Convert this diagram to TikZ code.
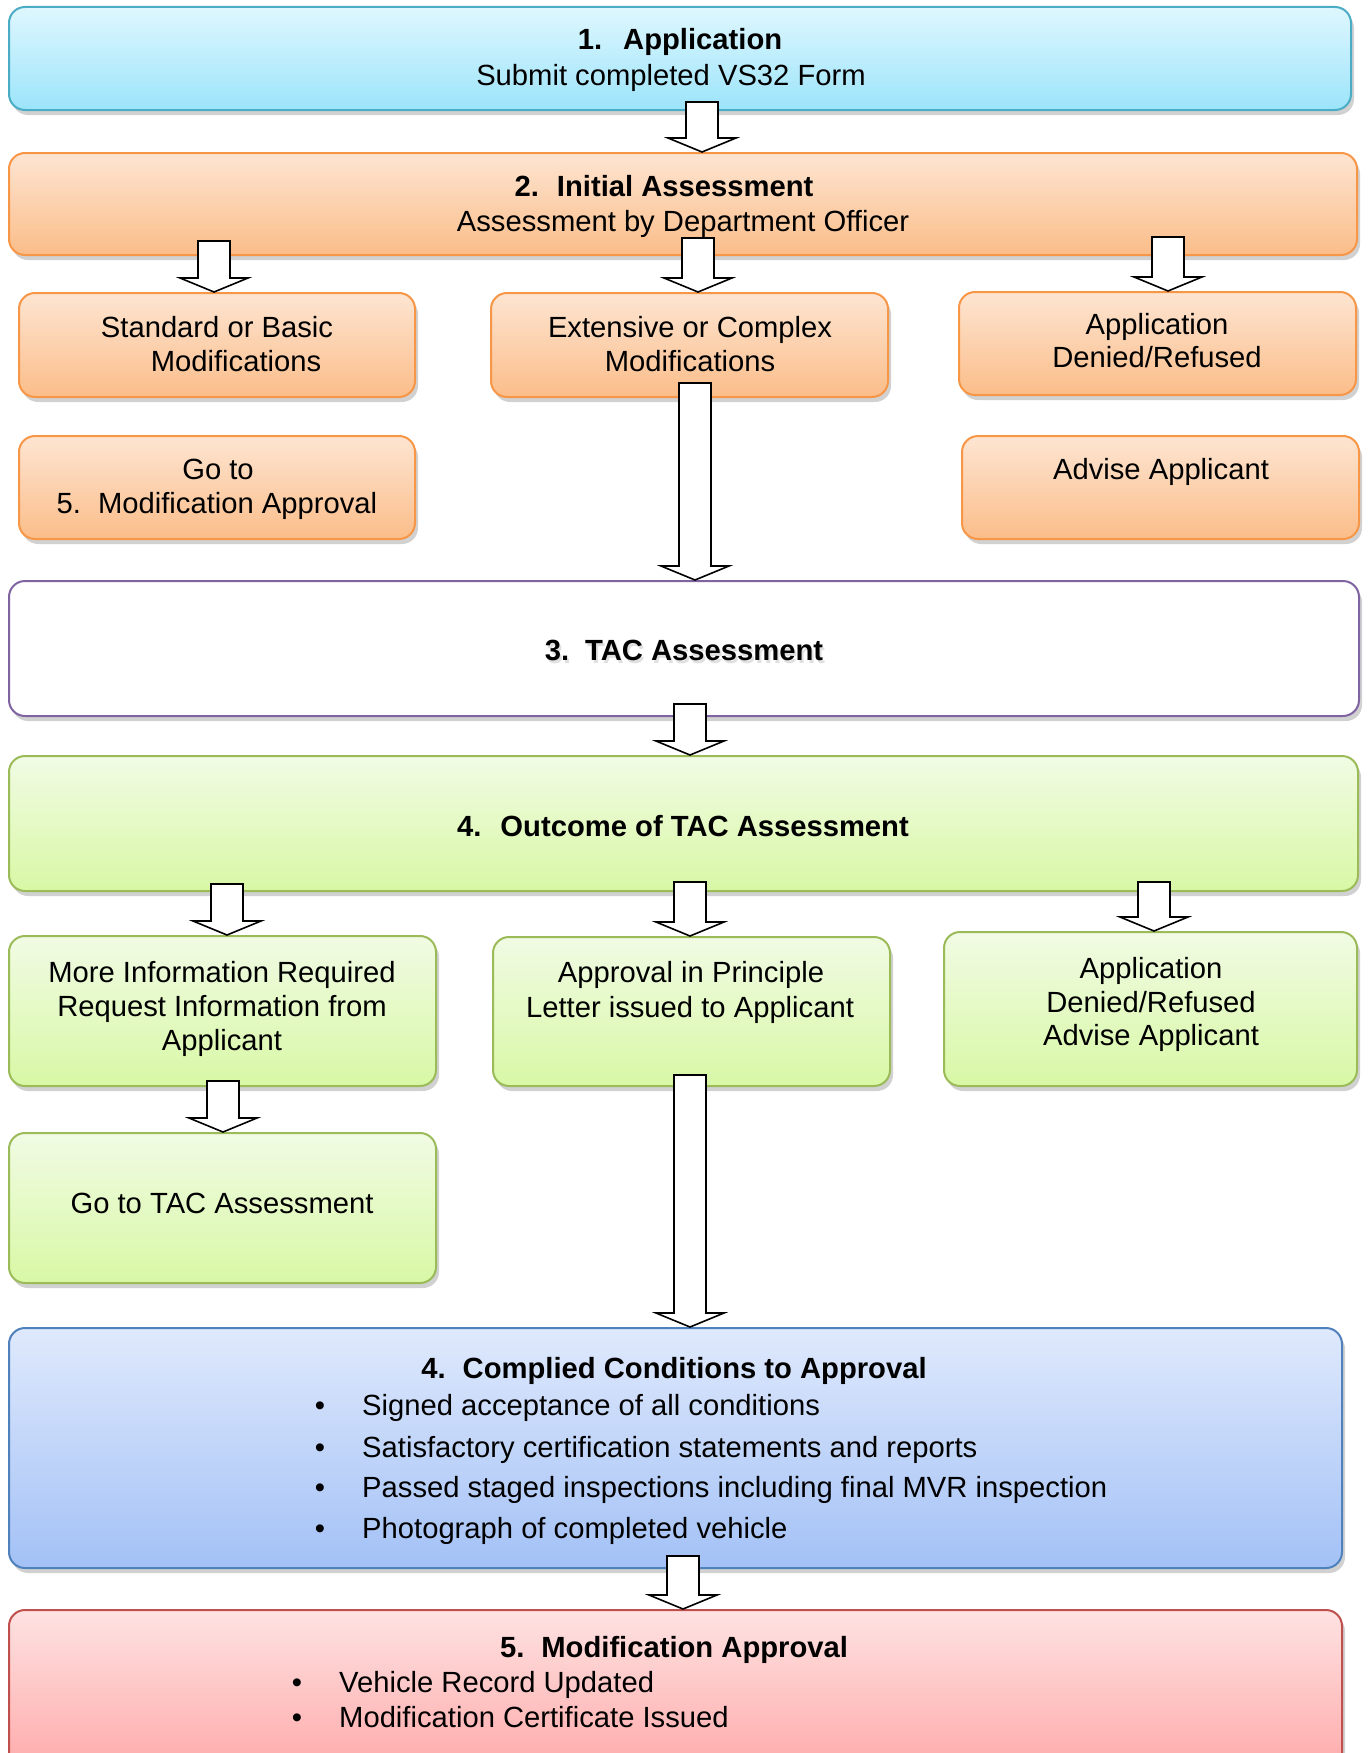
\documentclass[tikz,border=0pt]{standalone}
\usepackage{fontspec}
\setmainfont{Liberation Sans}
\usetikzlibrary{shadows,calc}
\definecolor{cyTop}{HTML}{DFF7FE}\definecolor{cyBot}{HTML}{9CE4FA}\definecolor{cyLine}{HTML}{4BACC6}
\definecolor{orTop}{HTML}{FDE5D2}\definecolor{orBot}{HTML}{FBBD89}\definecolor{orLine}{HTML}{F79646}
\definecolor{grTop}{HTML}{F1FBE4}\definecolor{grBot}{HTML}{D8F8A5}\definecolor{grLine}{HTML}{9BBB59}
\definecolor{blTop}{HTML}{DFE9FC}\definecolor{blBot}{HTML}{A3C1F6}\definecolor{blLine}{HTML}{4F81BD}
\definecolor{rdTop}{HTML}{FEE2E2}\definecolor{rdBot}{HTML}{FFA0A0}\definecolor{rdLine}{HTML}{C0504D}
\definecolor{puLine}{HTML}{8064A2}
\newcommand\mybox[6]{%
  \node[#2, minimum width={#5-#3}, minimum height={#6-#4}] (#1) at ({(#3+#5)/2},{(#4+#6)/2}) {};}
\newcommand\blockarrow[2]{%
  \draw[barr] let \p1=(#1), \p2=(#2) in
   ({\x1-16pt},\y1) -- ({\x1+16pt},\y1) -- ({\x1+16pt},{\y2+14pt}) -- ({\x1+34pt},{\y2+14pt})
   -- (\x1,\y2) -- ({\x1-34pt},{\y2+14pt}) -- ({\x1-16pt},{\y2+14pt}) -- cycle;}
\tikzset{
  basebox/.style={rectangle, rounded corners=16pt, line width=2pt, inner sep=0pt,
    drop shadow={shadow xshift=3pt, shadow yshift=-5pt, fill=black, opacity=0.18}},
  cybox/.style={basebox, draw=cyLine, top color=cyTop, bottom color=cyBot},
  orbox/.style={basebox, draw=orLine, top color=orTop, bottom color=orBot},
  grbox/.style={basebox, draw=grLine, top color=grTop, bottom color=grBot},
  blbox/.style={basebox, draw=blLine, top color=blTop, bottom color=blBot},
  rdbox/.style={basebox, draw=rdLine, top color=rdTop, bottom color=rdBot},
  pubox/.style={basebox, draw=puLine, fill=white},
  barr/.style={draw=black, fill=white, line width=1.6pt, line join=miter},
  txt/.style={font=\fontsize{29.2}{34}\selectfont, inner sep=0pt, anchor=base, text=black},
  ttl/.style={txt, font=\fontsize{29.2}{34}\selectfont\bfseries},
  ltxt/.style={txt, anchor=base west},
  bul/.style={txt}
}
\begin{document}
\begin{tikzpicture}[x=1pt,y=-1pt]
\path[use as bounding box] (0,0) rectangle (1368,1753);
\clip (0,0) rectangle (1368,1753);
\fill[white] (0,0) rectangle (1368,1753);
% boxes
\mybox{b1}{cybox}{9}{7}{1351}{110}
\mybox{b2}{orbox}{9}{153}{1357}{255}
\mybox{b2a}{orbox}{19}{293}{415}{397}
\mybox{b2b}{orbox}{491}{293}{888}{397}
\mybox{b2c}{orbox}{959}{292}{1356}{395}
\mybox{b2d}{orbox}{19}{436}{415}{539}
\mybox{b2e}{orbox}{962}{436}{1359}{539}
\mybox{b3}{pubox}{9}{581}{1359}{716}
\mybox{b4}{grbox}{9}{756}{1358}{891}
\mybox{b4a}{grbox}{9}{936}{436}{1086}
\mybox{b4b}{grbox}{493}{937}{890}{1086}
\mybox{b4c}{grbox}{944}{932}{1357}{1086}
\mybox{b4d}{grbox}{9}{1133}{436}{1283}
\mybox{b5}{blbox}{9}{1328}{1342}{1568}
\mybox{b6}{rdbox}{9}{1610}{1342}{1800}
% arrow start points
\coordinate (a1) at (702,102);
\coordinate (a2) at (214,241);
\coordinate (a3) at (698,238);
\coordinate (a4) at (1168,237);
\coordinate (a5) at (695,383);
\coordinate (a6) at (690,704);
\coordinate (a7) at (227,884);
\coordinate (a8) at (690,882);
\coordinate (a9) at (1154,882);
\coordinate (a10) at (223,1081);
\coordinate (a11) at (690,1075);
\coordinate (a12) at (683,1556);
\blockarrow{a1}{b2.north -| a1}
\blockarrow{a2}{b2a.north -| a2}
\blockarrow{a3}{b2b.north -| a3}
\blockarrow{a4}{b2c.north -| a4}
\blockarrow{a5}{b3.north -| a5}
\blockarrow{a6}{b4.north -| a6}
\blockarrow{a7}{b4a.north -| a7}
\blockarrow{a8}{b4b.north -| a8}
\blockarrow{a9}{b4c.north -| a9}
\blockarrow{a10}{b4d.north -| a10}
\blockarrow{a11}{b5.north -| a11}
\blockarrow{a12}{b6.north -| a12}
% texts
\node[ttl] (t1a) at (680,50) {1.\hspace{21pt}Application};
\node[txt] (t1b) at (671,85) {Submit completed VS32 Form};
\node[ttl] (t2a) at (664,196) {2.\hspace{18pt}Initial Assessment};
\node[txt] (t2b) at (683,231) {Assessment by Department Officer};
\node[txt] (t2aa) at (217,337) {Standard or Basic};
\node[txt] (t2ab) at (236,371) {Modifications};
\node[txt] (t2ba) at (690,337) {Extensive or Complex};
\node[txt] (t2bb) at (690,371) {Modifications};
\node[txt] (t2ca) at (1157,334) {Application};
\node[txt] (t2cb) at (1157,367) {Denied/Refused};
\node[txt] (t2da) at (218,479) {Go to};
\node[txt] (t2db) at (217,513) {5.\hspace{17pt}Modification Approval};
\node[txt] (t2ea) at (1161,479) {Advise Applicant};
\node[ttl, text=black, opacity=0.12] (t3s) at (686,663) {3.\hspace{16pt}TAC Assessment};
\node[ttl] (t3) at (684,660) {3.\hspace{16pt}TAC Assessment};
\node[ttl] (t4) at (683,836) {4.\hspace{19pt}Outcome of TAC Assessment};
\node[txt] (t4aa) at (222,982) {More Information Required};
\node[txt] (t4ab) at (222,1016) {Request Information from};
\node[txt] (t4ac) at (222,1050) {Applicant};
\node[txt] (t4ba) at (691,982) {Approval in Principle};
\node[txt] (t4bb) at (690,1017) {Letter issued to Applicant};
\node[txt] (t4ca) at (1151,978) {Application};
\node[txt] (t4cb) at (1151,1012) {Denied/Refused};
\node[txt] (t4cc) at (1151,1045) {Advise Applicant};
\node[txt] (t4d) at (222,1213) {Go to TAC Assessment};
\node[ttl] (t5) at (674,1378) {4.\hspace{17pt}Complied Conditions to Approval};
\node[bul] (t5b1) at (320,1415) {\textbullet};
\node[ltxt] (t5l1) at (362,1415) {Signed acceptance of all conditions};
\node[bul] (t5b2) at (320,1457) {\textbullet};
\node[ltxt] (t5l2) at (362,1457) {Satisfactory certification statements and reports};
\node[bul] (t5b3) at (320,1497) {\textbullet};
\node[ltxt] (t5l3) at (362,1497) {Passed staged inspections including final MVR inspection};
\node[bul] (t5b4) at (320,1538) {\textbullet};
\node[ltxt] (t5l4) at (362,1538) {Photograph of completed vehicle};
\node[ttl] (t6) at (674,1657) {5.\hspace{17pt}Modification Approval};
\node[bul] (t6b1) at (297,1692) {\textbullet};
\node[ltxt] (t6l1) at (339,1692) {Vehicle Record Updated};
\node[bul] (t6b2) at (297,1727) {\textbullet};
\node[ltxt] (t6l2) at (339,1727) {Modification Certificate Issued};
\end{tikzpicture}
\end{document}
